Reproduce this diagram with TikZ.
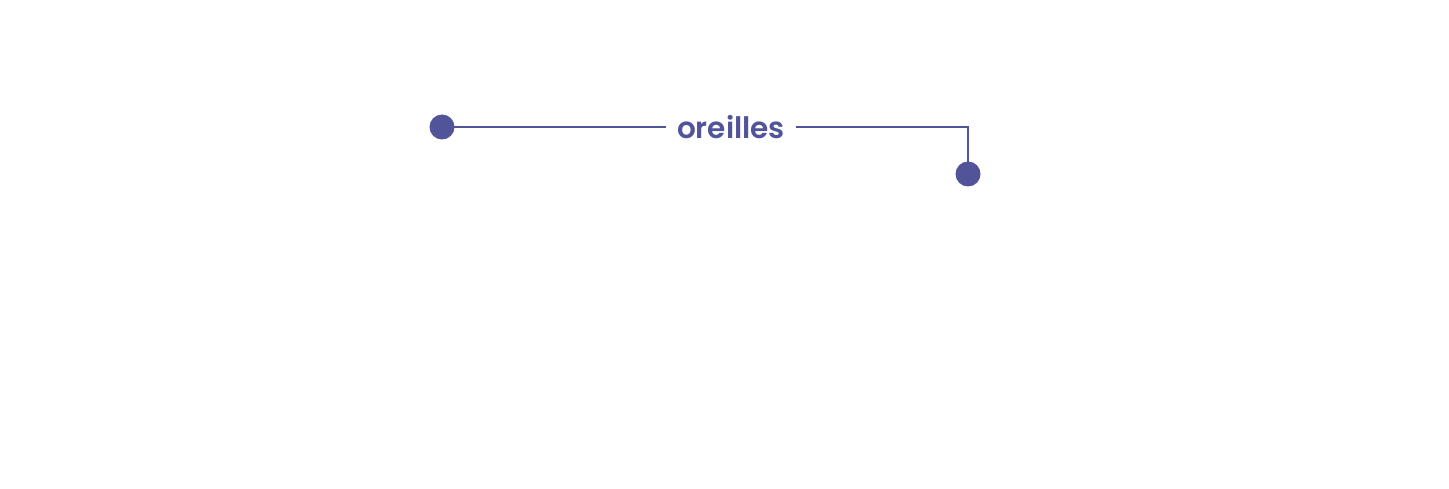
\documentclass[tikz,border=0pt]{standalone}
\usepackage{fontspec}
\setmainfont{Poppins}[BoldFont={Poppins SemiBold}]
\definecolor{ink}{HTML}{52549A}
\begin{document}
\begin{tikzpicture}[x=1pt,y=-1pt,
  dot/.style={circle,fill=ink,inner sep=0pt,minimum size=25pt},
  lab/.style={text=ink,font=\fontsize{29.5}{34}\selectfont\bfseries,inner xsep=11pt,inner ysep=2pt},
  conn/.style={draw=ink,line width=2pt}]
\useasboundingbox (0,0) rectangle (1449,489);
\node[dot] (a) at (442,127) {};
\node[dot] (b) at (968,174) {};
\node[lab] (t) at (731,127) {oreilles};
\coordinate (c) at (968,127);
\draw[conn] (a.center) -- (t.west);
\draw[conn] (t.east) -- (c) -- (b.center);
\end{tikzpicture}
\end{document}
